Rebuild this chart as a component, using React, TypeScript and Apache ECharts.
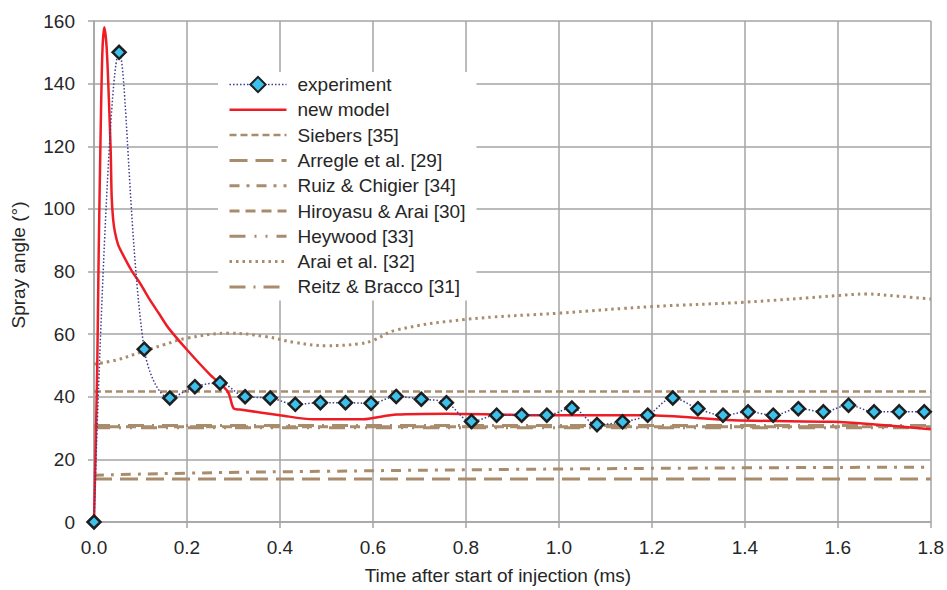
import React, { useEffect, useRef } from "react";
import * as echarts from "echarts";

const xTicks = [0, 0.2, 0.4, 0.6, 0.8, 1.0, 1.2, 1.4, 1.6, 1.8];
const yTicks = [0, 20, 40, 60, 80, 100, 120, 140, 160];

const expX = [0, 0.054, 0.108, 0.163, 0.217, 0.271, 0.325, 0.379, 0.433, 0.487, 0.541, 0.596, 0.65, 0.704, 0.758, 0.812, 0.866, 0.92, 0.974, 1.028, 1.082, 1.137, 1.191, 1.245, 1.299, 1.353, 1.407, 1.461, 1.515, 1.569, 1.623, 1.678, 1.732, 1.786];
const expY = [0, 150, 55.2, 39.6, 43.2, 44.4, 40.0, 39.6, 37.6, 38.1, 38.1, 37.9, 40.1, 39.2, 38.1, 32.1, 34.1, 34.1, 34.1, 36.4, 31.1, 32.0, 34.1, 39.6, 36.2, 34.1, 35.2, 34.1, 36.2, 35.2, 37.3, 35.2, 35.2, 35.2];

const modelX = [0, 0.003, 0.007, 0.01, 0.014, 0.018, 0.022, 0.027, 0.032, 0.036, 0.038, 0.041, 0.045, 0.052, 0.06, 0.08, 0.1, 0.12, 0.14, 0.16, 0.2, 0.25, 0.28, 0.29, 0.301, 0.314, 0.4, 0.472, 0.579, 0.6, 0.651, 0.759, 0.873, 0.94, 1.19, 1.375, 1.59, 1.66, 1.8];
const modelY = [0, 20, 50, 85, 122, 150, 158, 152, 135, 118, 104, 97, 92.6, 88.5, 86, 80.5, 76, 71, 66.5, 62, 55, 47, 43, 41, 36.2, 35.9, 34.1, 32.8, 32.8, 33.2, 34.3, 34.6, 34.3, 34.1, 34.1, 32.5, 32, 31.4, 29.6];

const flatX = [0, 1.8];
const siebersY = [41.7, 41.7];
const arregleY = [13.7, 13.7];
const hiroyasuY = [30.4, 30.4];
const heywoodY = [30.1, 30.1];
const reitzY = [30.8, 30.8];

const ruizX = [0, 0.2, 0.5, 0.9, 1.4, 1.8];
const ruizY = [14.9, 15.6, 16.2, 16.8, 17.3, 17.5];

const araiX = [0, 0.05, 0.1, 0.15, 0.2, 0.29, 0.37, 0.43, 0.5, 0.57, 0.6, 0.65, 0.8, 1.0, 1.2, 1.4, 1.6, 1.66, 1.73, 1.8];
const araiY = [50.4, 51.8, 54.2, 56.6, 58.7, 60.3, 59.2, 57.4, 56.3, 56.9, 58, 61.3, 64.7, 66.7, 68.8, 70.2, 72.3, 72.8, 72.1, 71.2];

const names = [
  "experiment",
  "new model",
  "Siebers [35]",
  "Arregle et al. [29]",
  "Ruiz & Chigier [34]",
  "Hiroyasu & Arai [30]",
  "Heywood [33]",
  "Arai et al. [32]",
  "Reitz & Bracco [31]",
];

const zip = (xs: number[], ys: number[]) => xs.map((x, i) => [x, ys[i]]);

const TAN = "#a88c6c";
const TEXT = "#262626";
const GRID = "#a5a5a5";
const FONT = "'Liberation Sans', Arial, sans-serif";
const FS = 19;

export default function App() {
  const ref = useRef<HTMLDivElement>(null);
  useEffect(() => {
    if (!ref.current) return;
    const chart = echarts.init(ref.current, undefined, { renderer: "svg" });
    const tanLine = (name: string, data: number[][], dash: number[], width = 3, smooth: any = false) => ({
      name,
      type: "line",
      data,
      symbol: "none",
      smooth,
      z: 2,
      lineStyle: { color: TAN, width, type: dash },
      itemStyle: { color: TAN },
    });
    chart.setOption({
      animation: false,
      backgroundColor: "#fff",
      textStyle: { fontFamily: FONT },
      grid: { left: 94, right: 16, top: 21, bottom: 67, containLabel: false },
      legend: {
        orient: "vertical",
        left: 218,
        top: 72,
        padding: [3, 10, 4, 10],
        backgroundColor: "#fff",
        itemWidth: 57,
        itemHeight: 19,
        itemGap: 6.3,
        selectedMode: false,
        lineStyle: { width: "inherit" },
        data: names.map((n, i) => (i === 0 ? { name: n } : { name: n, itemStyle: { opacity: 0 } })),
        textStyle: { fontSize: FS, color: TEXT, fontFamily: FONT, padding: [0, 0, 0, 6] },
      },
      xAxis: {
        type: "value",
        min: 0,
        max: 1.8,
        interval: 0.2,
        name: "Time after start of injection (ms)",
        nameLocation: "middle",
        nameGap: 44,
        nameTextStyle: { fontSize: FS, color: TEXT, fontFamily: FONT, padding: [0, 29, 0, 0] },
        axisLine: { show: true, lineStyle: { color: GRID, width: 1.5 } },
        axisTick: { show: true, length: 6, lineStyle: { color: GRID, width: 1.5 } },
        axisLabel: {
          fontSize: FS,
          color: TEXT,
          margin: 16,
          formatter: (v: number) => {
            const t = xTicks.find((k) => Math.abs(k - v) < 1e-6);
            return t === undefined ? "" : t.toFixed(1);
          },
        },
        splitLine: { show: true, lineStyle: { color: GRID, width: 1.5 } },
      },
      yAxis: {
        type: "value",
        min: 0,
        max: 160,
        interval: 20,
        name: "Spray angle (°)",
        nameLocation: "middle",
        nameGap: 66,
        nameTextStyle: { fontSize: FS, color: TEXT, fontFamily: FONT, padding: [0, 0, 0, 13] },
        axisLine: { show: true, lineStyle: { color: GRID, width: 1.5 } },
        axisTick: { show: true, length: 6, lineStyle: { color: GRID, width: 1.5 } },
        axisLabel: {
          fontSize: FS,
          color: TEXT,
          margin: 19,
          formatter: (v: number) => (yTicks.includes(v) ? String(v) : ""),
        },
        splitLine: { show: true, lineStyle: { color: GRID, width: 1.5 } },
      },
      series: [
        {
          name: names[0],
          type: "line",
          data: zip(expX, expY),
          smooth: 0.35,
          symbol: "diamond",
          symbolSize: 13,
          z: 6,
          lineStyle: { color: "#3d3d8f", width: 1.5, type: [1.5, 2] },
          itemStyle: { color: "#3cc0ec", borderColor: "#1e1e1e", borderWidth: 2.5 },
        },
        {
          name: names[1],
          type: "line",
          data: zip(modelX, modelY),
          smooth: 0.3,
          symbol: "none",
          z: 5,
          lineStyle: { color: "#ee1c25", width: 2.5 },
          itemStyle: { color: "#ee1c25" },
        },
        tanLine(names[2], zip(flatX, siebersY), [7, 4], 2.5),
        tanLine(names[3], zip(flatX, arregleY), [18, 8], 3),
        tanLine(names[4], zip(ruizX, ruizY), [10, 7, 3, 7], 3, true),
        tanLine(names[5], zip(flatX, hiroyasuY), [10, 6], 3),
        tanLine(names[6], zip(flatX, heywoodY), [16, 9, 2, 9, 2, 9], 3),
        tanLine(names[7], zip(araiX, araiY), [2.5, 4], 3, 0.4),
        tanLine(names[8], zip(flatX, reitzY), [16, 8, 2, 8], 3),
      ],
    });
    return () => chart.dispose();
  }, []);
  return (
    <div
      ref={ref}
      style={{ position: "fixed", left: 0, top: 0, width: 947, height: 590, background: "#fff" }}
    />
  );
}
